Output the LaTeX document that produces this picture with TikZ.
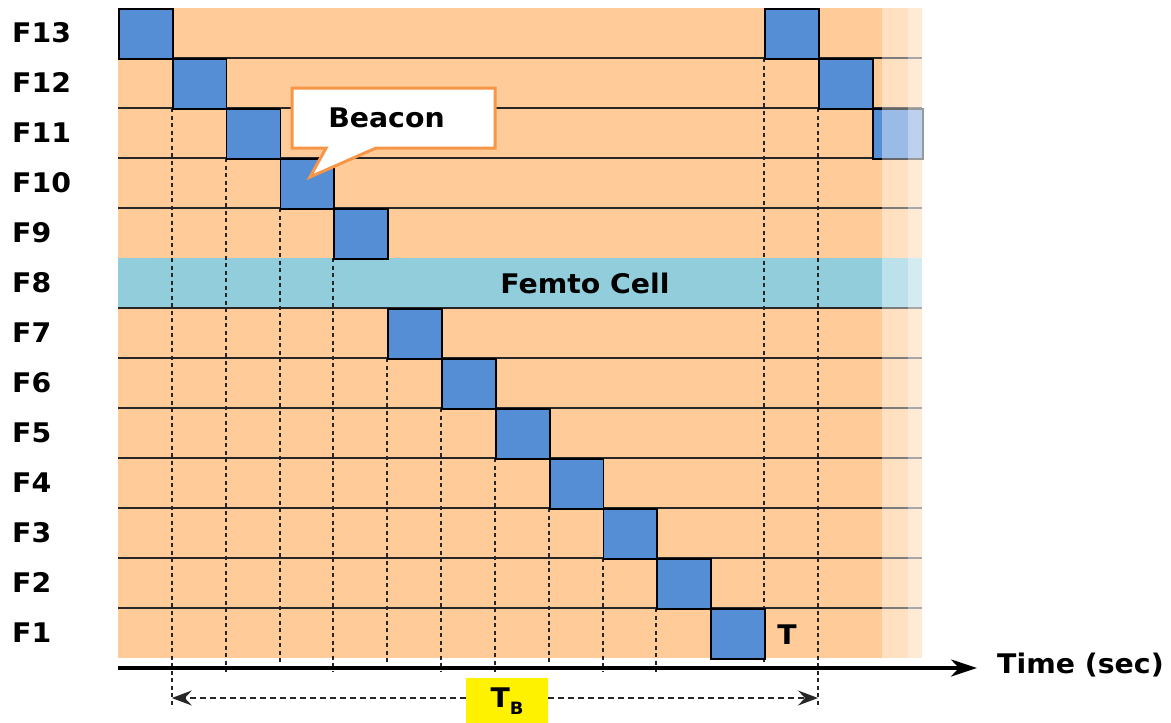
\documentclass[tikz,border=0pt]{standalone}
\usepackage{fontspec}
\setmainfont{DejaVu Sans}
\newfontfamily\lblfont[FakeStretch=1.05]{DejaVu Sans}
\usetikzlibrary{arrows.meta,shapes.callouts}

\definecolor{slotorange}{HTML}{FFCC99}
\definecolor{beaconblue}{HTML}{558ED5}
\definecolor{femtoblue}{HTML}{92CDDC}
\definecolor{calloutorange}{HTML}{F79646}

\begin{document}
\begin{tikzpicture}[x=1pt,y=-1pt,
  lbl/.style={font=\lblfont\bfseries\fontsize{27}{31}\selectfont, inner sep=0pt},
  slot/.style={draw=black, line width=1.8pt, fill=beaconblue, anchor=north west,
    minimum width=53.846pt, minimum height=50pt, inner sep=0pt},
  rowline/.style={draw=black!85, line width=1.4pt},
  guide/.style={draw=black!85, line width=2pt, dash pattern=on 4pt off 3.5pt},
  period/.style={draw=black!85, line width=1.6pt, dash pattern=on 6pt off 4pt},
]
\useasboundingbox (0,0) rectangle (1171,723);

% frame background and the femto cell band
\fill[slotorange] (118,8) rectangle (922,658);
\node[fill=femtoblue, anchor=north west, minimum width=804pt, minimum height=50pt,
  inner sep=0pt] (femto) at (118,258) {};

% row separators (none on top of the femto band)
\foreach \r in {1,2,3,4,6,7,8,9,10,11,12}
  \draw[rowline] (118,{8+50*\r}) -- (922,{8+50*\r});

% slot boundaries, dashed below each beacon
\foreach \k/\ys/\ye in {1/108/708, 2/158/672, 3/208/672, 4/258/672, 5/358/672,
    6/408/672, 7/458/672, 8/508/672, 9/558/672, 10/608/672, 12/58/672, 13/108/708}
  \draw[guide] ({118+\k*53.846},\ys) -- ({118+\k*53.846},\ye);

% beacon slots
\foreach \c/\r in {0/0,1/1,2/2,3/3,4/4,5/6,6/7,7/8,8/9,9/10,10/11,11/12,12/0,13/1}
  \node[slot] (sq\c) at ({118+\c*53.846},{8+50*\r}) {};
\node[slot, minimum width=50.2pt] (sq14) at (871.8,108) {};

% fading right edge
\fill[white, opacity=0.4] (882,6) rectangle (908,660);
\fill[white, opacity=0.6] (908,6) rectangle (924,660);

% labels
\node[lbl] (femtotext) at (585,283) {Femto Cell};
\foreach \i in {1,...,13}
  \node[lbl, anchor=west, text height=19.5pt, text depth=0pt] (lF\i)
    at (12,{633-50*(\i-1)}) {F\i};
\node[lbl, text height=19.5pt, text depth=0pt] (tslot) at (787,635) {T};

% callout
\node[rectangle callout, draw=calloutorange, line width=3pt, fill=white,
  minimum width=203pt, minimum height=60pt, callout pointer width=50pt,
  callout absolute pointer={(310,177)}, lbl] (beacon) at (393.5,118)
  {Beacon\hspace*{14pt}};

% time axis
\coordinate (ax0) at (118,668);
\coordinate (ax1) at (977,668);
\draw[line width=3.5pt, -{Stealth[length=26pt,width=17pt,inset=8pt]}] (ax0) -- (ax1);
\node[lbl, anchor=west, text height=19.5pt, text depth=0pt] (axislabel) at (997,664) {Time (sec)};

% beacon period
\node[fill=yellow, anchor=north, minimum width=82pt, minimum height=45pt,
  inner sep=0pt, lbl] (tb) at (507,678)
  {T\raisebox{-7pt}{\fontsize{17}{19}\selectfont B}};
\coordinate (tbL) at (171.846,698);
\coordinate (tbR) at (818,698);
\draw[period, -{Stealth[length=20pt,width=15pt,inset=7pt]}] (tb.west |- tbL) -- (tbL);
\draw[period, -{Stealth[length=20pt,width=15pt,inset=7pt]}] (tb.east |- tbR) -- (tbR);
\end{tikzpicture}
\end{document}
